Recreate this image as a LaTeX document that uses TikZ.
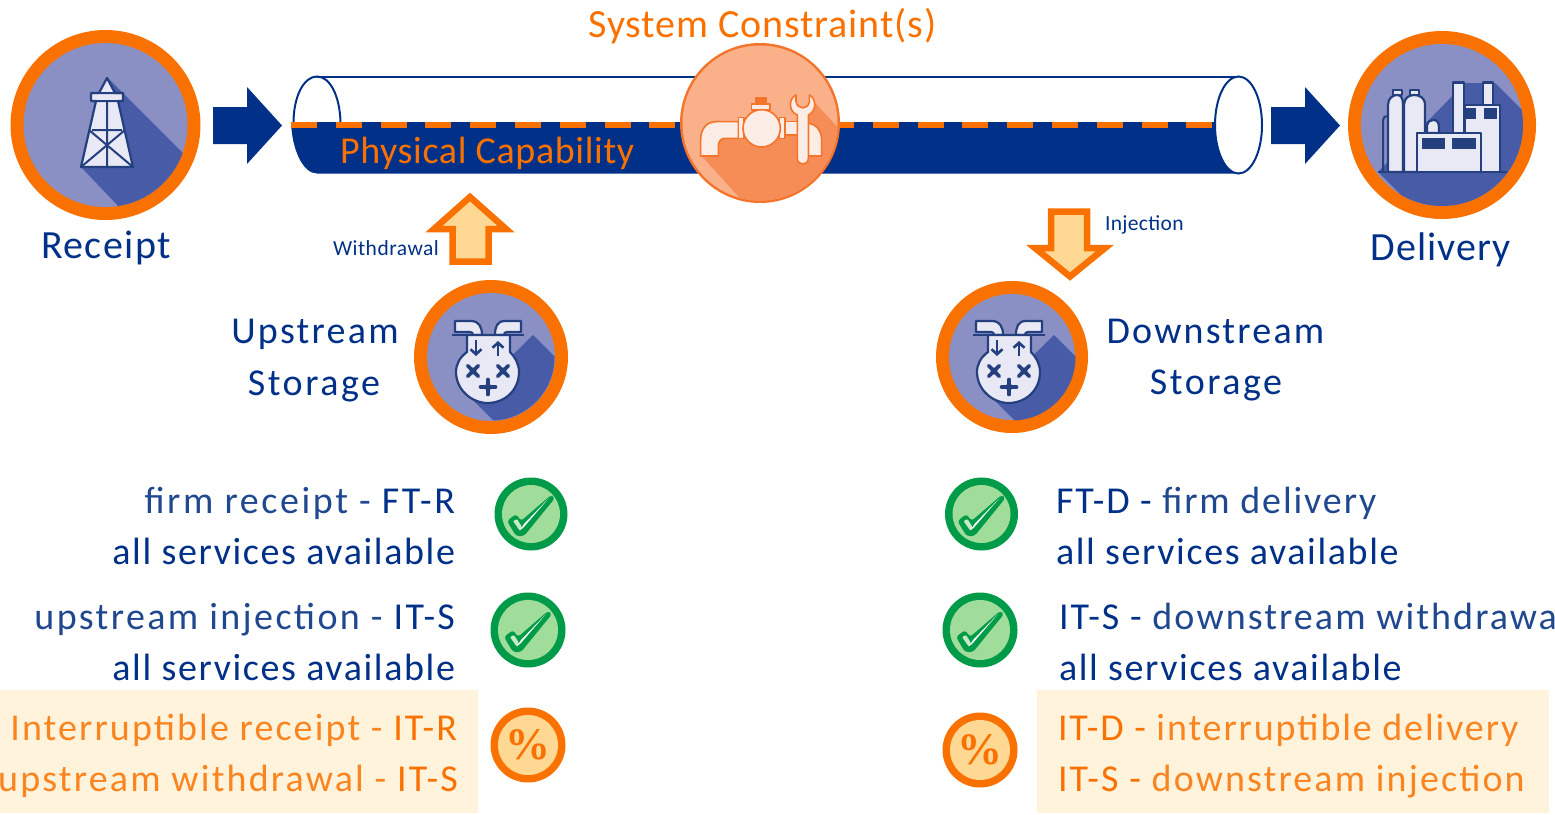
\documentclass[tikz,border=0pt]{standalone}
\usepackage{fontspec}
\usetikzlibrary{arrows.meta}
\setmainfont{Carlito}
\newfontfamily\pctfont{Liberation Serif}
\definecolor{navy}{HTML}{003087}
\definecolor{navylite}{HTML}{20488F}
\definecolor{ringor}{HTML}{F97100}
\definecolor{orlite}{HTML}{FA8520}
\definecolor{paleor}{HTML}{FFD993}
\definecolor{bandor}{HTML}{FFF3DC}
\definecolor{disc}{HTML}{8A90C4}
\definecolor{shad}{HTML}{485BA6}
\definecolor{iconf}{HTML}{E8E9F4}
\definecolor{iconl}{HTML}{24407F}
\definecolor{gring}{HTML}{009B48}
\definecolor{gfill}{HTML}{A0DC9A}
\definecolor{cstroke}{HTML}{F4742B}
\definecolor{clight}{HTML}{FAB088}
\definecolor{cdark}{HTML}{F68D56}
\definecolor{cicon}{HTML}{FBEDE5}
\newcommand{\nl}[1]{{\color{navylite}#1}}
\newcommand{\ol}[1]{{\color{orlite}#1}}
\tikzset{
  txt/.style={inner sep=0pt,outer sep=0pt,font=\fontsize{38}{38}\selectfont,text=navy},
  big/.style={txt,font=\fontsize{40}{40}\selectfont},
  small/.style={txt,font=\fontsize{21.5}{22}\selectfont},
  oran/.style={text=ringor},
  ls/.style={execute at begin node=\addfontfeature{LetterSpace=#1}},
  iconpart/.style={draw=iconl,fill=iconf,line width=2.2pt,line join=round},
  iconline/.style={draw=iconl,line width=2.4pt},
  tappart/.style={draw=cstroke,fill=cicon,line width=1.6pt,line join=round},
  blockarrow/.style={fill=navy,draw=none},
  openarrow/.style={fill=paleor,draw=ringor,line width=6.5pt,miter limit=10},
  dashbar/.style={fill=ringor,draw=none},
  band/.style={fill=bandor,draw=none,inner sep=0pt},
}
\newcommand{\ringbadge}[4]{%
  \node[circle,minimum size=#3*2pt,fill=ringor,inner sep=0pt] (#4) at (#1,#2) {};
  \fill[disc] (#1,#2) circle[radius=#3pt-13pt];}
\newcommand{\okbadge}[4]{%
  \node[circle,minimum size=#3*2pt,fill=gring,inner sep=0pt] (#4) at (#1,#2) {};
  \fill[gfill] (#1,#2) circle[radius=#3pt-7.5pt];
  \begin{scope}[shift={(#1,#2)}]
    \fill[gring,rounded corners=3pt] (-24,7) -- (-15,0) -- (-10,7) -- (20,-19) -- (24,-16) -- (-7,22) -- (-15,22) -- cycle;
    \fill[gfill!60!white,rounded corners=1pt] (-18,7) -- (-14,5) -- (-9,13) -- (-11,17) -- cycle;
    \fill[white] (-11,16) -- (-8,14) -- (18,-16) -- (-7,10) -- cycle;
  \end{scope}}
\newcommand{\pctbadge}[4]{%
  \node[circle,minimum size=#3*2pt,fill=ringor,inner sep=0pt] (#4) at (#1,#2) {};
  \fill[paleor] (#1,#2) circle[radius=#3pt-7.5pt];
  \node[inner sep=0pt,text=ringor,font=\pctfont\bfseries\fontsize{45}{45}\selectfont] (#4t) at (#1,#2) {\%};}
\newcommand{\storeicon}[2]{%
  \begin{scope}[shift={(#1,#2)}]
    \begin{scope}
      \clip (0,0) circle[radius=63.5];
      \fill[shad] (42,-22) -- (100,36) -- (100,100) -- (29,90) -- (-21,40) -- cycle;
    \end{scope}
    \draw[iconpart] (-36,-36) -- (-20,-36) .. controls (-12,-36) and (-9,-30) .. (-9,-22) -- (-18,-22) .. controls (-18,-24) and (-19,-25) .. (-21,-25) -- (-36,-25) -- cycle;
    \draw[iconpart] (30,-36) -- (14,-36) .. controls (6,-36) and (4,-30) .. (4,-22) -- (13,-22) .. controls (13,-24) and (14,-25) .. (16,-25) -- (30,-25) -- cycle;
    \draw[iconpart] (-24,-22) -- (-24,-5) .. controls (-31,0) and (-35,7) .. (-35,15) .. controls (-35,33) and (-19,46) .. (-3.5,46) .. controls (14,46) and (28,33) .. (28,15) .. controls (28,7) and (24,0) .. (19,-5) -- (19,-22) -- cycle;
    \draw[iconline] (-39,-22) -- (33,-22);
    \draw[iconline,line width=2.6pt,-{Straight Barb[length=5pt,width=11pt]}] (-15,-17) -- (-15,-1);
    \draw[iconline,line width=2.6pt,-{Straight Barb[length=5pt,width=11pt]}] (7,-1) -- (7,-16);
    \foreach \cx/\cy/\rot in {-18/14/45,12/14/45,-3/30/0}{
      \begin{scope}[shift={(\cx,\cy)},rotate=\rot]
        \draw[iconl,line width=3.6pt,line cap=round] (-7.5,0) -- (7.5,0) (0,-7.5) -- (0,7.5);
        \fill[iconl] (0,0) circle[radius=3.5];
      \end{scope}}
  \end{scope}}
\begin{document}
\begin{tikzpicture}[x=1pt,y=-1pt]
\useasboundingbox (0,0) rectangle (1555,814);
\clip (0,0) rectangle (1555,814);
% ---- highlight bands
\fill[band] (0,690) rectangle (478,813);
\fill[band] (1037,690) rectangle (1549,813);
% ---- pipe
\draw[navy,line width=2pt] (317,76.5) -- (1238,76.5);
\fill[navy] (291,122) .. controls (292,150) and (303,173.5) .. (317,173.5) -- (1238,173.5) -- (1238,122) -- cycle;
\draw[navy,line width=2pt,fill=white] (1238.5,125) ellipse[x radius=23.5,y radius=48.5];
\draw[navy,line width=2pt] (293.5,123) .. controls (293.5,96) and (304,76.5) .. (317,76.5) .. controls (330,76.5) and (340,96) .. (340.5,123);
\foreach \k in {0,...,8}{\fill[dashbar] (291+\k*44.8,122) rectangle ++(26,6);}
\foreach \k in {0,...,8}{\fill[dashbar] (828+\k*44.8,122) rectangle ++(26,6);}
\node[txt,oran,ls=1.7,anchor=base west] (phys) at (340,163) {Physical Capability};
% ---- block arrows
\fill[blockarrow] (213,107) -- (247,107) -- (247,87) -- (282,125.5) -- (247,164) -- (247,144) -- (213,144) -- cycle;
\fill[blockarrow] (1271,107) -- (1305,107) -- (1305,87) -- (1340,125.5) -- (1305,164) -- (1305,144) -- (1271,144) -- cycle;
\draw[openarrow] (470,197) -- (506,229) -- (488.5,229) -- (488.5,261.5) -- (452.5,261.5) -- (452.5,229) -- (434,229) -- cycle;
\draw[openarrow] (1070,276.5) -- (1035,248) -- (1051,248) -- (1051,211.5) -- (1087,211.5) -- (1087,248) -- (1105,248) -- cycle;
% ---- receipt badge
\ringbadge{105.5}{125}{95}{receipt}
\begin{scope}
  \clip (105.5,125) circle[radius=82];
  \fill[shad] (107,77) -- (195,165) -- (195,225) -- (122,210) -- (81,167) -- cycle;
\end{scope}
\draw[iconpart] (107,78) -- (115,93) -- (123,93) -- (123,101) -- (118,101) -- (133,167) -- (81,167) -- (96,101) -- (91,101) -- (91,93) -- (99,93) -- cycle;
\draw[iconl,line width=2pt] (91,93) -- (123,93) (91,101) -- (123,101) (107,101) -- (107,167) (92,130) -- (122,130) (89,130) -- (133,167) (125,130) -- (81,167);
% ---- delivery badge
\ringbadge{1442}{125}{94}{delivery}
\begin{scope}
  \clip (1442,125) circle[radius=81];
  \fill[shad] (1378,172) -- (1412,206) -- (1450,215) -- (1530,215) -- (1530,118) -- (1495,83) -- (1465,83) -- cycle;
\end{scope}
\draw[iconline,line width=2pt] (1383,172) -- (1383,120) .. controls (1383,117) and (1385,116) .. (1388,116);
\draw[iconline,line width=2pt] (1400,172) -- (1400,120) .. controls (1400,117) and (1402,116) .. (1404,116);
\draw[iconpart] (1393,95) rectangle (1402,90);
\draw[iconpart] (1410,95) rectangle (1419,90);
\draw[iconpart] (1388,172) -- (1388,105) .. controls (1388,98) and (1393,95) .. (1397,95) .. controls (1401,95) and (1403,98) .. (1403,105) -- (1403,172) -- cycle;
\draw[iconpart] (1404,172) -- (1404,105) .. controls (1404,98) and (1409,95) .. (1414,95) .. controls (1420,95) and (1425,98) .. (1425,105) -- (1425,172) -- cycle;
\draw[iconpart] (1427,133) -- (1427,125) .. controls (1427,122) and (1430,120) .. (1433,120) .. controls (1437,120) and (1439,122) .. (1439,128) -- (1439,133) -- cycle;
\draw[iconpart] (1453,82.5) rectangle (1464,133);
\draw[iconpart] (1483,82.5) rectangle (1493,105);
\draw[iconpart] (1465,105) rectangle (1500,172);
\fill[iconl] (1465,108) rectangle (1476,119);
\fill[iconl] (1484,108) rectangle (1497,119);
\draw[iconpart] (1417,133) rectangle (1481,172);
\fill[iconl] (1422,138) rectangle (1445,149);
\fill[iconl] (1452,138) rectangle (1476,149);
\draw[iconline] (1378,172) -- (1507,172);
% ---- constraint badge
\node[circle,minimum size=160pt,fill=cstroke,inner sep=0pt] (constraint) at (760,123) {};
\fill[clight] (760,123) circle[radius=77.5];
\begin{scope}[shift={(660,30)},scale=1/3]
  \begin{scope}
    \clip (300,280) circle[radius=232];
    \fill[cdark] (125,378) -- (245,510) -- (400,520) -- (560,400) -- (540,300) -- (462,215) -- (380,300) -- (175,325) -- cycle;
  \end{scope}
  \draw[tappart] (122,378) -- (122,330) .. controls (122,295) and (140,275) .. (170,275) -- (235,275) -- (235,325) -- (195,325) .. controls (182,325) and (175,335) .. (175,350) -- (175,378) -- cycle;
  \draw[tappart] (375,275) -- (415,275) -- (415,315) -- (375,315) -- cycle;
  \draw[tappart] (445,280) .. controls (470,282) and (485,305) .. (485,330) -- (485,378) -- (445,378) -- cycle;
  \draw[tappart] (235,262) rectangle (252,325);
  \draw[tappart] (358,262) rectangle (375,325);
  \fill[cstroke] (285,200) rectangle (322,218);
  \draw[tappart] (275,222) rectangle (330,240);
  \draw[tappart] (305,295) circle[radius=56];
  \draw[tappart] (408,195) .. controls (385,205) and (385,245) .. (412,255) -- (412,385) .. controls (412,408) and (445,408) .. (445,385) -- (445,255) .. controls (470,245) and (470,205) .. (448,195) -- (448,215) .. controls (445,240) and (412,240) .. (408,215) -- cycle;
\end{scope}
% ---- storage badges
\ringbadge{491}{357}{77}{ustore}
\storeicon{491}{357}
\ringbadge{1012}{357}{76}{dstore}
\storeicon{1012}{357}
% ---- check and percent badges
\okbadge{531}{514}{36.5}{ok1}
\okbadge{528}{630}{37.5}{ok2}
\okbadge{981.5}{514}{36.5}{ok3}
\okbadge{980}{630}{37.5}{ok4}
\pctbadge{528}{745}{37.5}{pc1}
\pctbadge{980}{750}{37.5}{pc2}
% ---- labels
\node[big,oran,ls=2.2,anchor=base] (sys) at (762.5,37) {System Constraint(s)};
\node[big,ls=3.6,anchor=base] (rc) at (106,258) {Receipt};
\node[big,ls=2.5,anchor=base] (dl) at (1440.5,260) {Delivery};
\node[small,ls=2.3,anchor=base west] (wd) at (333,255) {Withdrawal};
\node[small,ls=1.6,anchor=base west] (inj) at (1105,230) {Injection};
\node[txt,ls=5.9,anchor=base] (u1) at (315,343) {Upstream};
\node[txt,ls=6.7,anchor=base] (u2) at (314,395) {Storage};
\node[txt,ls=5.8,anchor=base] (d1) at (1215.5,343) {Downstream};
\node[txt,ls=6.7,anchor=base] (d2) at (1216,394) {Storage};
\node[txt,ls=6.8,anchor=base east] (l1) at (455,513) {\nl{firm receipt -} FT-R};
\node[txt,ls=4.3,anchor=base east] (l2) at (455,564) {all services available};
\node[txt,ls=6.3,anchor=base east] (l3) at (455,629) {\nl{upstream injection -} IT-S};
\node[txt,ls=4.3,anchor=base east] (l4) at (455,680) {all services available};
\node[txt,oran,ls=5.55,anchor=base east] (l5) at (457,740) {\ol{Interruptible receipt -} IT-R};
\node[txt,oran,ls=5.8,anchor=base east] (l6) at (458,791) {\ol{upstream withdrawal -} IT-S};
\node[txt,ls=5,anchor=base west] (r1) at (1056,513) {FT-D - \nl{firm delivery}};
\node[txt,ls=4.3,anchor=base west] (r2) at (1056,564) {all services available};
\node[txt,ls=5.5,anchor=base west] (r3) at (1059,629) {IT-S - \nl{downstream withdrawal}};
\node[txt,ls=4.3,anchor=base west] (r4) at (1059,680) {all services available};
\node[txt,oran,ls=5,anchor=base west] (r5) at (1058,740) {IT-D - \ol{interruptible delivery}};
\node[txt,oran,ls=5.6,anchor=base west] (r6) at (1058,791) {IT-S - \ol{downstream injection}};
\end{tikzpicture}
\end{document}
